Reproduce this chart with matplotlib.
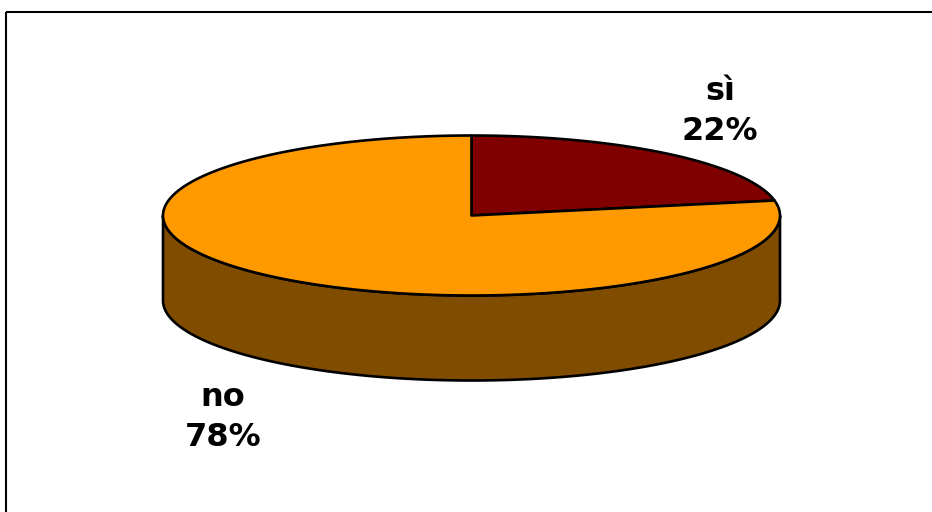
import numpy as np
import matplotlib
matplotlib.use("Agg")
import matplotlib.pyplot as plt
from matplotlib.patches import Polygon, Rectangle

# Survey answers
labels = ["sì", "no"]
shares = [22, 78]
top_colors = ["#800000", "#FF9900"]
side_colors = ["#4D0000", "#7F4C00"]

W, H = 932, 512
fig = plt.figure(figsize=(W / 100, H / 100), dpi=100)
ax = fig.add_axes([0, 0, 1, 1])
ax.set_xlim(0, W)
ax.set_ylim(H, 0)
ax.axis("off")

# chart frame
ax.add_patch(Rectangle((6, 12), W + 20, H + 20, fill=False, ec="black", lw=1.5, zorder=0))

# pie geometry (pixel units)
cx, cy = 471.5, 215.5
a, b = 308.5, 80.0
depth = 85.0


def rim(t0, t1, yoff=0.0, n=200):
    t = np.radians(np.linspace(t0, t1, n))
    return np.column_stack([cx + a * np.sin(t), cy + yoff - b * np.cos(t)])


total = float(sum(shares))
bounds = np.concatenate([[0.0], np.cumsum(shares) / total * 360.0])

# side walls: only the front half (90..270 deg, clockwise from top) is visible
for i in range(len(shares)):
    s0, s1 = max(bounds[i], 90.0), min(bounds[i + 1], 270.0)
    if s1 <= s0:
        continue
    upper = rim(s0, s1)
    lower = rim(s1, s0, yoff=depth)
    poly = np.vstack([upper, lower])
    ax.add_patch(Polygon(poly, closed=True, fc=side_colors[i], ec="black",
                         lw=1.9, joinstyle="round", zorder=2))

# top faces
for i in range(len(shares)):
    arc = rim(bounds[i], bounds[i + 1])
    poly = np.vstack([[cx, cy], arc])
    ax.add_patch(Polygon(poly, closed=True, fc=top_colors[i], ec="black",
                         lw=1.9, joinstyle="round", zorder=3))

# data labels
label_pos = [(720, 100), (223, 406)]
for (lx, ly), lab, val in zip(label_pos, labels, shares):
    ax.text(lx, ly, lab, ha="center", va="baseline", fontsize=23,
            fontweight="bold", family="DejaVu Sans", color="black")
    ax.text(lx, ly + 40, f"{val}%", ha="center", va="baseline", fontsize=23,
            fontweight="bold", family="DejaVu Sans", color="black")

fig.savefig("out.png", dpi=100)
